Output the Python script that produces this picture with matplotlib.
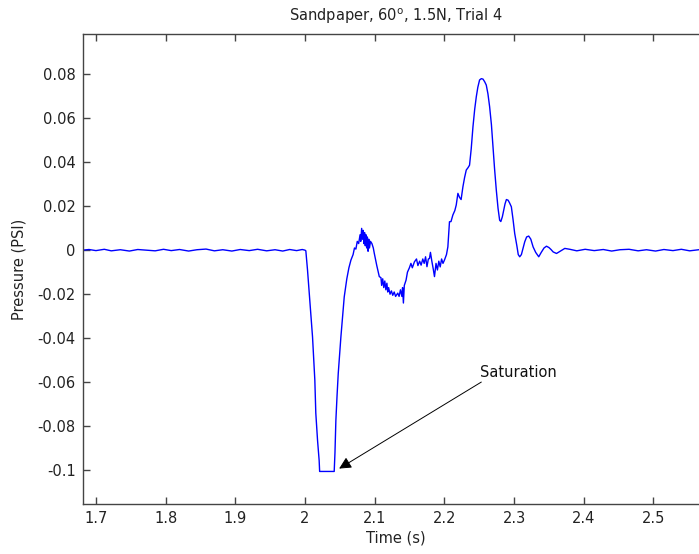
import numpy as np
import matplotlib.pyplot as plt

# Pressure trace (time in s, pressure in PSI)
t_base = [1.681, 1.690, 1.700, 1.712, 1.722, 1.735, 1.748, 1.760, 1.772, 1.785,
          1.797, 1.808, 1.820, 1.833, 1.845, 1.858, 1.870, 1.882, 1.895, 1.907,
          1.920, 1.932, 1.945, 1.957, 1.968, 1.978, 1.988, 1.996, 2.000]
p_base = [0.0, 0.0003, -0.0002, 0.0004, -0.0003, 0.0002, -0.0004, 0.0003, 0.0, -0.0003,
          0.0004, -0.0002, 0.0003, -0.0004, 0.0002, 0.0005, -0.0003, 0.0002, -0.0004, 0.0003,
          -0.0002, 0.0004, -0.0003, 0.0002, -0.0004, 0.0003, -0.0002, 0.0003, 0.0]

t_event = [2.0012, 2.0036, 2.0069, 2.0108, 2.0141, 2.0155, 2.0180, 2.0203, 2.0210, 2.0419,
           2.0430, 2.0443, 2.0460, 2.0477, 2.0515, 2.0540, 2.0563, 2.0600, 2.0630, 2.0659,
           2.0690, 2.0710, 2.0730,
           2.0750, 2.0770, 2.0790, 2.0800, 2.0813, 2.0825, 2.0835, 2.0845, 2.0855, 2.0865,
           2.0875, 2.0885, 2.0895, 2.0905, 2.0915, 2.0925, 2.0940, 2.0960, 2.0980, 2.0994,
           2.1030, 2.1066, 2.1090, 2.1100, 2.1115, 2.1130, 2.1145, 2.1160, 2.1175, 2.1187,
           2.1200, 2.1220, 2.1240, 2.1259, 2.1280, 2.1300, 2.1331, 2.1350, 2.1370, 2.1390,
           2.1400, 2.1412, 2.1425, 2.1450, 2.1470, 2.1498, 2.1520, 2.1540, 2.1570, 2.1600,
           2.1620, 2.1645, 2.1666, 2.1690, 2.1710, 2.1730, 2.1750, 2.1770, 2.1786, 2.1800,
           2.1820, 2.1840, 2.1858, 2.1880, 2.1900, 2.1920, 2.1940, 2.1960, 2.1980, 2.2001,
           2.2030, 2.2050, 2.2073, 2.2095, 2.2122, 2.2150, 2.2170, 2.2194, 2.2217, 2.2240,
           2.2266, 2.2290, 2.2314, 2.2340, 2.2361, 2.2385, 2.2410, 2.2435, 2.2458, 2.2480,
           2.2505, 2.2530, 2.2554, 2.2578, 2.2601, 2.2625, 2.2649, 2.2675, 2.2698, 2.2720,
           2.2745, 2.2770, 2.2793, 2.2810, 2.2832, 2.2870, 2.2890, 2.2914, 2.2935, 2.2961,
           2.2985, 2.3009, 2.3040, 2.3060, 2.3081, 2.3105, 2.3130, 2.3153, 2.3180, 2.3210,
           2.3240, 2.3273, 2.3310, 2.3354, 2.3390, 2.3430, 2.3465, 2.3500, 2.3530, 2.3561,
           2.3609, 2.3660, 2.3728, 2.3800]
p_event = [-0.0003, -0.009, -0.0227, -0.0394, -0.059, -0.074, -0.0864, -0.0955, -0.1005, -0.1005,
           -0.092, -0.0773, -0.066, -0.056, -0.0394, -0.030, -0.0212, -0.013, -0.008, -0.0045,
           -0.002, 0.001, 0.0005,
           0.004, 0.003, 0.007, 0.004, 0.0099, 0.005, 0.009, 0.003, 0.008, 0.002,
           0.007, 0.001, 0.006, -0.0005, 0.005, 0.001, 0.004, 0.003, 0.001, -0.0014,
           -0.007, -0.012, -0.0125, -0.016, -0.013, -0.017, -0.014, -0.018, -0.015, -0.019,
           -0.017, -0.020, -0.0185, -0.0205, -0.019, -0.021, -0.0195, -0.021, -0.018, -0.021,
           -0.017, -0.024, -0.016, -0.0136, -0.010, -0.008, -0.006, -0.008, -0.0053, -0.004,
           -0.007, -0.005, -0.0068, -0.004, -0.006, -0.003, -0.0075, -0.004, -0.0038, -0.001,
           -0.005, -0.0085, -0.012, -0.006, -0.009, -0.005, -0.0076, -0.004, -0.006, -0.0045,
           -0.002, 0.0015, 0.0129, 0.013, 0.016, 0.018, 0.0205, 0.0258, 0.024, 0.023,
           0.0288, 0.033, 0.0364, 0.0375, 0.0386, 0.046, 0.056, 0.064, 0.0697, 0.074,
           0.0773, 0.0779, 0.0777, 0.0765, 0.075, 0.071, 0.0652, 0.057, 0.047, 0.037,
           0.0273, 0.019, 0.0136, 0.013, 0.0152, 0.021, 0.023, 0.0227, 0.0215, 0.0197,
           0.014, 0.0076, 0.002, -0.002, -0.003, -0.002, 0.001, 0.0038, 0.006, 0.0064,
           0.005, 0.0015, -0.001, -0.003, -0.001, 0.001, 0.0018, 0.0012, 0.0003, -0.0008,
           -0.0015, -0.0005, 0.0008, 0.0004]

t_tail = [2.390, 2.402, 2.415, 2.428, 2.440, 2.452, 2.465, 2.478, 2.490, 2.503,
          2.515, 2.528, 2.540, 2.552, 2.565, 2.579]
p_tail = [-0.0003, 0.0004, -0.0002, 0.0003, -0.0004, 0.0002, 0.0004, -0.0003, 0.0002, -0.0004,
          0.0003, -0.0002, 0.0004, -0.0003, 0.0002, 0.0]

tiempo = np.array(t_base + t_event + t_tail)
presion = np.array(p_base + p_event + p_tail)

x_ticks = [1.7, 1.8, 1.9, 2.0, 2.1, 2.2, 2.3, 2.4, 2.5]
x_labels = ['1.7', '1.8', '1.9', '2', '2.1', '2.2', '2.3', '2.4', '2.5']
y_ticks = [-0.1, -0.08, -0.06, -0.04, -0.02, 0, 0.02, 0.04, 0.06, 0.08]
y_labels = ['-0.1', '-0.08', '-0.06', '-0.04', '-0.02', '0', '0.02', '0.04', '0.06', '0.08']

plt.rcParams['font.family'] = 'DejaVu Sans'
plt.rcParams['font.size'] = 10.5

fig = plt.figure(figsize=(6.99, 5.54), dpi=100)
ax = fig.add_axes([0.1183, 0.0894, 0.8953, 0.8493])

ax.plot(tiempo, presion, color='#0000ff', lw=1.0)

# flecha y texto de saturacion
ax.annotate('', xy=(2.049, -0.0992), xytext=(2.253, -0.0599),
            arrowprops=dict(arrowstyle='-|>', color='k', lw=0.7, mutation_scale=18,
                            shrinkA=0, shrinkB=0))
ax.text(2.2516, -0.0556, 'Saturation', ha='left', va='center', color='#111111')

ax.set_xlim(1.681, 2.579)
ax.set_ylim(-0.1155, 0.0982)
ax.set_xticks(x_ticks)
ax.set_xticklabels(x_labels)
ax.set_yticks(y_ticks)
ax.set_yticklabels(y_labels)

gris = '#444444'
for lado in ['left', 'bottom', 'top']:
    ax.spines[lado].set_color(gris)
    ax.spines[lado].set_linewidth(1.0)
ax.spines['right'].set_visible(False)
ax.tick_params(direction='in', length=5, width=1.0, color=gris, labelcolor='#222222',
               top=True, pad=5)

ax.set_title(r'Sandpaper, 60$^{\mathrm{o}}$, 1.5N, Trial 4', fontsize=10.5, pad=9, color='#222222')
ax.set_xlabel('Time (s)', labelpad=3, color='#222222')
ax.set_ylabel('Pressure (PSI)', labelpad=8, color='#222222')

fig.savefig('out.png', dpi=100)
